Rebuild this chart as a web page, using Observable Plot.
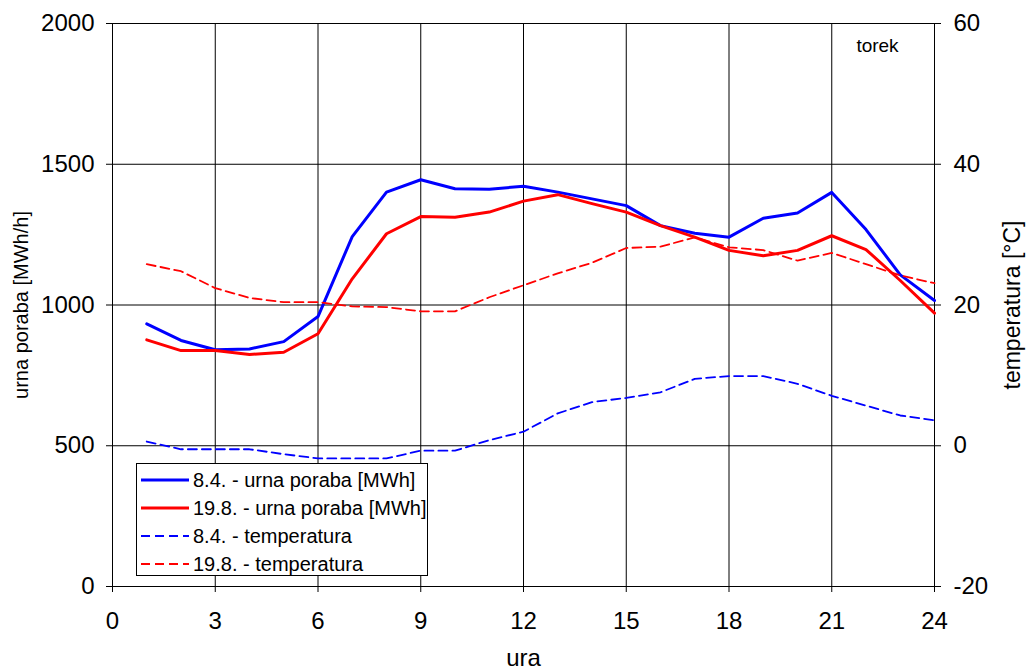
<!DOCTYPE html>
<html>
<head>
<meta charset="utf-8">
<script src="https://cdn.jsdelivr.net/npm/d3@7"></script>
<script src="https://cdn.jsdelivr.net/npm/@observablehq/plot@0.6"></script>
<style>
  body { margin: 0; background: white; }
  #wrap { position: relative; width: 1026px; height: 671px; font-family: "Liberation Sans", Arial, sans-serif; }
  #legend { position: absolute; left: 136px; top: 463px; width: 290px; height: 111px; border: 1px solid black; background: white; }
  .row { position: absolute; left: 0; height: 28px; display: flex; align-items: center; font-size: 20px; color: black; white-space: nowrap; }
  .row svg { margin-left: 4px; margin-right: 4px; }
</style>
</head>
<body>
<div id="wrap"><div id="legend"></div></div>
<script>
const hours = [1,2,3,4,5,6,7,8,9,10,11,12,13,14,15,16,17,18,19,20,21,22,23,24];
const cons84  = [933,874,841,844,870,959,1243,1401,1445,1413,1411,1422,1401,1377,1353,1282,1255,1241,1308,1327,1400,1268,1107,1016];
const cons198 = [876,838,838,824,832,898,1093,1253,1314,1312,1330,1369,1392,1360,1330,1282,1241,1194,1175,1194,1246,1197,1087,971];
const temp84  = [0.6,-0.5,-0.5,-0.5,-1.2,-1.8,-1.8,-1.8,-0.7,-0.7,0.8,2.0,4.6,6.2,6.8,7.6,9.5,9.9,9.9,8.8,7.1,5.7,4.3,3.6];
const temp198 = [25.8,24.8,22.4,21.0,20.4,20.4,19.8,19.7,19.1,19.1,21.1,22.8,24.5,26.0,28.1,28.3,29.6,28.2,27.8,26.3,27.4,25.8,24.2,23.1];
const xTicks = [0,3,6,9,12,15,18,21,24];
const consTicks = [0,500,1000,1500,2000];
const tempTicks = [-20,0,20,40,60];
const seriesNames = ["8.4. - urna poraba [MWh]","19.8. - urna poraba [MWh]","8.4. - temperatura","19.8. - temperatura"];

// temperature axis (right) mapped onto consumption axis (left)
const toCons = t => (t + 20) * 25;
const toTemp = c => c / 25 - 20;

const rows = [];
hours.forEach((h, i) => {
  rows.push({h, v: cons84[i], s: seriesNames[0]});
  rows.push({h, v: cons198[i], s: seriesNames[1]});
  rows.push({h, v: toCons(temp84[i]), s: seriesNames[2]});
  rows.push({h, v: toCons(temp198[i]), s: seriesNames[3]});
});
const styles = {
  [seriesNames[0]]: {stroke: "#0000ff", strokeWidth: 3, dash: null},
  [seriesNames[1]]: {stroke: "#ff0000", strokeWidth: 3, dash: null},
  [seriesNames[2]]: {stroke: "#0000ff", strokeWidth: 1.8, dash: "9,5"},
  [seriesNames[3]]: {stroke: "#ff0000", strokeWidth: 1.8, dash: "9,5"}
};
const font = "'Liberation Sans', Arial, sans-serif";

const lineMarks = seriesNames.map(name => Plot.line(rows.filter(d => d.s === name), {
  x: "h", y: "v", stroke: styles[name].stroke, strokeWidth: styles[name].strokeWidth,
  strokeDasharray: styles[name].dash, curve: "linear"
}));

const chart = Plot.plot({
  width: 1026,
  height: 671,
  marginLeft: 112,
  marginRight: 92,
  marginTop: 23,
  marginBottom: 85,
  style: {fontFamily: font, fontSize: "24px", color: "black", background: "white", overflow: "visible"},
  x: {domain: [0, 24]},
  y: {domain: [0, 2000]},
  marks: [
    Plot.gridX(xTicks, {stroke: "black", strokeOpacity: 1, strokeWidth: 1}),
    Plot.gridY(consTicks, {stroke: "black", strokeOpacity: 1, strokeWidth: 1}),
    Plot.frame({stroke: "black", strokeWidth: 1}),
    Plot.axisX({ticks: xTicks, tickFormat: d => String(d), tickSize: 6, tickPadding: 19, label: null, fontSize: 24}),
    Plot.axisY({anchor: "left", ticks: consTicks, tickFormat: d => String(d), tickSize: 6, tickPadding: 12, label: null, fontSize: 24}),
    Plot.axisY({anchor: "right", ticks: tempTicks.map(toCons), tickFormat: d => String(toTemp(d)), tickSize: 6, tickPadding: 13, label: null, fontSize: 24}),
    Plot.text(["ura"], {frameAnchor: "bottom", dy: 72, lineAnchor: "middle", fontSize: 24}),
    Plot.text(["urna poraba [MWh/h]"], {frameAnchor: "left", dx: -91, rotate: -90, lineAnchor: "middle", textAnchor: "middle", fontSize: 20}),
    Plot.text(["temperatura [°C]"], {frameAnchor: "right", dx: 78, rotate: -90, lineAnchor: "middle", textAnchor: "middle", fontSize: 23}),
    Plot.text(["torek"], {frameAnchor: "top-right", dx: -57, dy: 22, lineAnchor: "middle", textAnchor: "middle", fontSize: 19}),
    ...lineMarks
  ]
});
document.getElementById("wrap").prepend(chart);

const legend = document.getElementById("legend");
seriesNames.forEach((name, i) => {
  const st = styles[name];
  const row = document.createElement("div");
  row.className = "row";
  row.style.top = (2 + i * 28) + "px";
  row.innerHTML = `<svg width="48" height="10"><line x1="0" y1="5" x2="48" y2="5" stroke="${st.stroke}" stroke-width="${st.dash ? 2 : 3}" ${st.dash ? `stroke-dasharray="${st.dash}"` : ""}/></svg><span>${name}</span>`;
  legend.appendChild(row);
});
</script>
</body>
</html>
